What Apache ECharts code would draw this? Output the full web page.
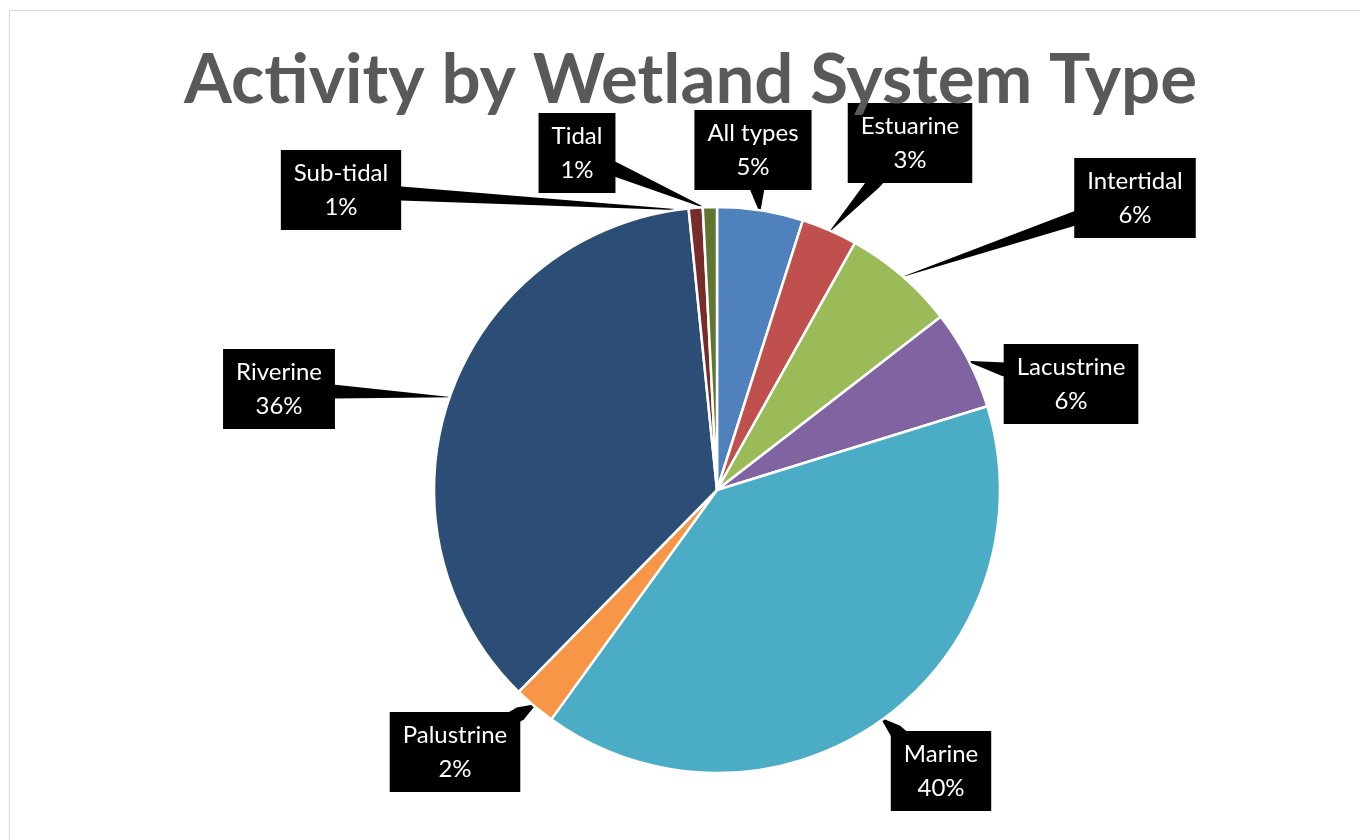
<!DOCTYPE html>
<html>
<head>
<meta charset="utf-8">
<script src="https://cdn.jsdelivr.net/npm/echarts@6/dist/echarts.min.js"></script>
<style>
html,body{margin:0;padding:0;background:#fff;}
#chart{width:1360px;height:840px;}
</style>
</head>
<body>
<div id="chart"></div>
<script>
// Data
var categories = ['All types', 'Estuarine', 'Intertidal', 'Lacustrine', 'Marine', 'Palustrine', 'Riverine', 'Sub-tidal', 'Tidal'];
var values = [4.9, 3.2, 6.4, 5.7, 39.7, 2.4, 36.0, 0.8, 0.8];
var colors = ['#4F81BD', '#C0504D', '#9BBB59', '#8064A2', '#4BACC6', '#F79646', '#2C4D75', '#772C2A', '#5F7530'];
var titleText = 'Activity by Wetland System Type';

// Label box centres (layout only)
var labelCentres = {
  'All types': [753, 150],
  'Estuarine': [910, 143],
  'Intertidal': [1135, 198],
  'Lacustrine': [1071, 384],
  'Marine': [941, 771],
  'Palustrine': [455, 752],
  'Riverine': [279, 389],
  'Sub-tidal': [341, 190],
  'Tidal': [577, 153]
};

var total = values.reduce(function (a, b) { return a + b; }, 0);
var chart = echarts.init(document.getElementById('chart'), null, {renderer: 'canvas'});
var option = {
  backgroundColor: '#ffffff',
  animation: false,
  title: {
    text: titleText,
    left: 179,
    top: 41,
    textStyle: {fontFamily: 'Lato', fontWeight: 'bold', fontSize: 69, color: '#595959'}
  },
  graphic: [{
    type: 'rect',
    shape: {x: 9.5, y: 10.5, width: 1400, height: 900},
    style: {fill: 'none', stroke: '#d9d9d9', lineWidth: 1},
    silent: true,
    z: -1
  }],
  series: [{
    type: 'pie',
    center: [717, 490],
    radius: [0, 283],
    startAngle: 90,
    clockwise: true,
    z: 3,
    data: categories.map(function (c, i) {
      return {name: c, value: values[i], itemStyle: {color: colors[i]}};
    }),
    itemStyle: {borderColor: '#ffffff', borderWidth: 2.5},
    label: {
      show: true,
      formatter: function (p) {
        return p.name + '\n' + Math.round(p.value / total * 100) + '%';
      },
      color: '#ffffff',
      fontFamily: 'Lato',
      fontSize: 24,
      lineHeight: 34,
      backgroundColor: '#000000',
      padding: [6, 13, 6, 13],
      align: 'center'
    },
    labelLine: {show: false},
    labelLayout: function (params) {
      var c = labelCentres[categories[params.dataIndex]];
      return {x: c[0], y: c[1], align: 'center', verticalAlign: 'middle'};
    },
    emphasis: {disabled: true}
  }]
};
chart.setOption(option);

// Callout wedges, derived from the pie's own layout and the label boxes
(function () {
  var series = chart.getModel().getSeriesByIndex(0);
  var data = series.getData();
  var wedges = [];
  for (var i = 0; i < data.count(); i++) {
    var lay = data.getItemLayout(i);
    var mid = (lay.startAngle + lay.endAngle) / 2;
    var rr = lay.r - 3;
    var tip = [lay.cx + rr * Math.cos(mid), lay.cy + rr * Math.sin(mid)];
    var el = data.getItemGraphicEl(i);
    var label = el && el.getTextContent();
    var br = label ? label.getBoundingRect() : {width: 100, height: 80};
    var c = labelCentres[categories[i]];
    var hw = br.width / 2, hh = br.height / 2;
    var dx = tip[0] - c[0], dy = tip[1] - c[1];
    var len = Math.sqrt(dx * dx + dy * dy);
    var ux = dx / len, uy = dy / len;
    var t = Math.min(Math.abs(dx) > 1e-6 ? hw / Math.abs(dx) : Infinity,
                     Math.abs(dy) > 1e-6 ? hh / Math.abs(dy) : Infinity);
    var ex = [c[0] + dx * t, c[1] + dy * t];
    var px = -uy, py = ux, w = 7;
    wedges.push({
      type: 'polygon',
      silent: true,
      z: 1,
      shape: {points: [
        tip,
        [ex[0] + px * w, ex[1] + py * w],
        [c[0] + px * w, c[1] + py * w],
        [c[0] - px * w, c[1] - py * w],
        [ex[0] - px * w, ex[1] - py * w]
      ]},
      style: {fill: '#000000'}
    });
  }
  chart.setOption({graphic: option.graphic.concat(wedges)}, {replaceMerge: ['graphic']});
})();
</script>
</body>
</html>
